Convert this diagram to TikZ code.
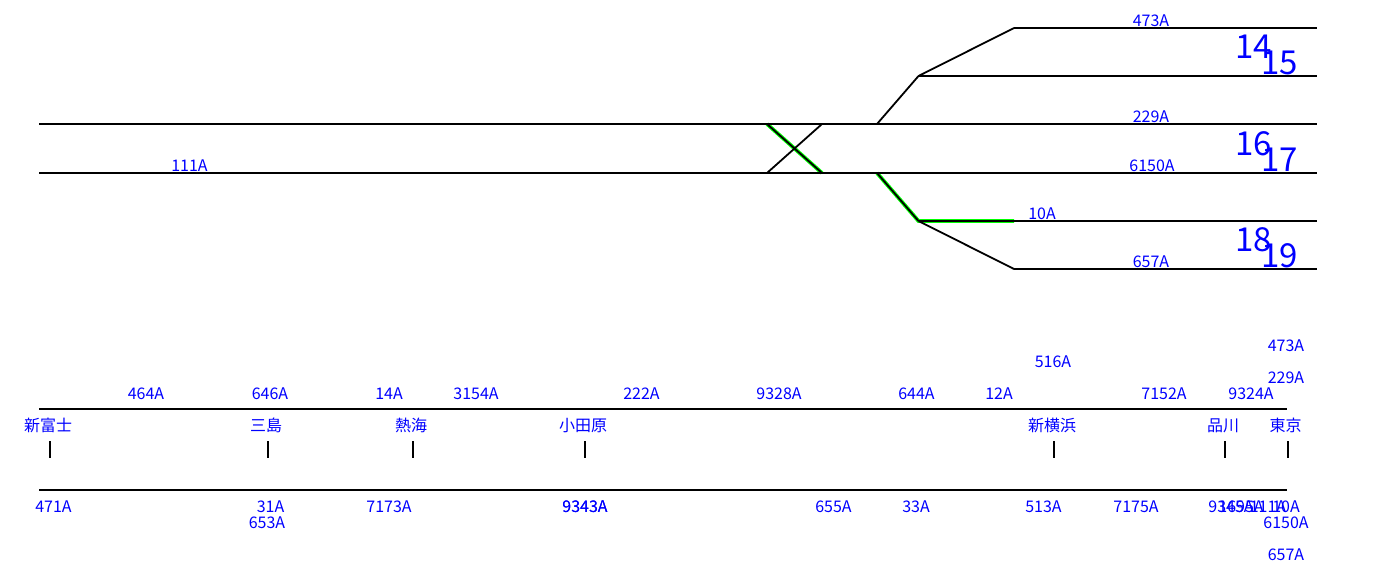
\documentclass[tikz,border=0pt]{standalone}
\usepackage{fontspec}
\setmainfont{Noto Sans CJK JP}
\definecolor{trainblue}{RGB}{0,0,255}
\definecolor{hl}{RGB}{0,255,0}
\tikzset{
 lab/.style={text=trainblue,font=\fontsize{16}{16}\selectfont,inner sep=0pt,anchor=center},
 big/.style={text=trainblue,font=\fontsize{33}{33}\selectfont,inner sep=0pt,anchor=center},
 track/.style={draw=black,line width=1.8pt},
 tick/.style={draw=black,line width=1.8pt},
 green/.style={draw=hl,line width=3.8pt},
}
\begin{document}
\begin{tikzpicture}[x=1pt,y=-1pt]
\useasboundingbox (0,0) rectangle (1373,584);
% green highlights
\coordinate (gA) at (767,124); \coordinate (gB) at (822,173);
\coordinate (gC) at (877,173); \coordinate (gD) at (918.5,221); \coordinate (gE) at (1014,221);
\draw[green] (gA) -- (gB);
\draw[green] (gC) -- (gD) -- (gE);
% tracks
\coordinate (t1l) at (1014,28); \coordinate (t1r) at (1317,28);
\coordinate (t2l) at (918.5,76); \coordinate (t2r) at (1317,76);
\coordinate (t3l) at (39,124); \coordinate (t3r) at (1317,124);
\coordinate (t4l) at (39,173); \coordinate (t4r) at (1317,173);
\coordinate (t5l) at (918.5,221); \coordinate (t5r) at (1317,221);
\coordinate (t6l) at (1014,269); \coordinate (t6r) at (1317,269);
\coordinate (xA) at (767,173); \coordinate (xB) at (822,124); \coordinate (yA) at (877,124);
\draw[track] (t1l) -- (t1r);
\draw[track] (t2l) -- (t2r);
\draw[track] (t3l) -- (t3r);
\draw[track] (t4l) -- (t4r);
\draw[track] (t5l) -- (t5r);
\draw[track] (t6l) -- (t6r);
\draw[track] (t1l) -- (t2l) -- (yA);
\draw[track] (xA) -- (xB);
\draw[track] (gA) -- (gB);
\draw[track] (gC) -- (gD);
\draw[track] (t5l) -- (t6l);
% map lines
\coordinate (m1l) at (39,409); \coordinate (m1r) at (1287,409);
\coordinate (m2l) at (39,490); \coordinate (m2r) at (1287,490);
\draw[track] (m1l) -- (m1r);
\draw[track] (m2l) -- (m2r);
% stations
\foreach \n/\x/\sx/\t in {a/50/48/新富士,b/267.6/266/三島,c/413/411/熱海,d/584.6/583/小田原,e/1053.6/1052/新横浜,f/1225/1223/品川,g/1287.6/1285.5/東京}{
  \node[lab] (st\n) at (\sx,425.5) {\t};
  \coordinate (ta\n) at (\x,441); \coordinate (tb\n) at (\x,457.5);
  \draw[tick] (ta\n) -- (tb\n);
}
% labels
\foreach \i/\x/\y/\t in {1/1151/21/473A,2/1151/117/229A,3/1152/166/6150A,4/1042/214/10A,5/1151/262/657A,6/189.5/166/111A,
 7/1286/346/473A,8/1286/378/229A,9/1053/362/516A,10/146/394/464A,11/270/394/646A,12/389/394/14A,13/476/394/3154A,14/641.5/394/222A,15/779/394/9328A,16/916.5/394/644A,17/999/394/12A,18/1164/394/7152A,19/1251/394/9324A,
 20/53.5/507/471A,21/270.5/507/31A,22/267/523/653A,23/389/507/7173A,24/585/507/9343A,25/585/507/9343A,26/833.5/507/655A,27/916/507/33A,28/1043.5/507/513A,29/1136/507/7175A,30/1286/523/6150A,31/1286/555/657A,
 32/1231/507/9345A,33/1241/507/1695A,34/1268/507/111A,35/1286/507/10A}{
  \node[lab] (l\i) at (\x,\y) {\t};
}
\node[big] (n14) at (1253.5,46.5) {14};
\node[big] (n15) at (1279.5,62.5) {15};
\node[big] (n16) at (1253.5,143.5) {16};
\node[big] (n17) at (1279.5,159.5) {17};
\node[big] (n18) at (1253.5,239.5) {18};
\node[big] (n19) at (1279.5,255.5) {19};
\end{tikzpicture}
\end{document}
